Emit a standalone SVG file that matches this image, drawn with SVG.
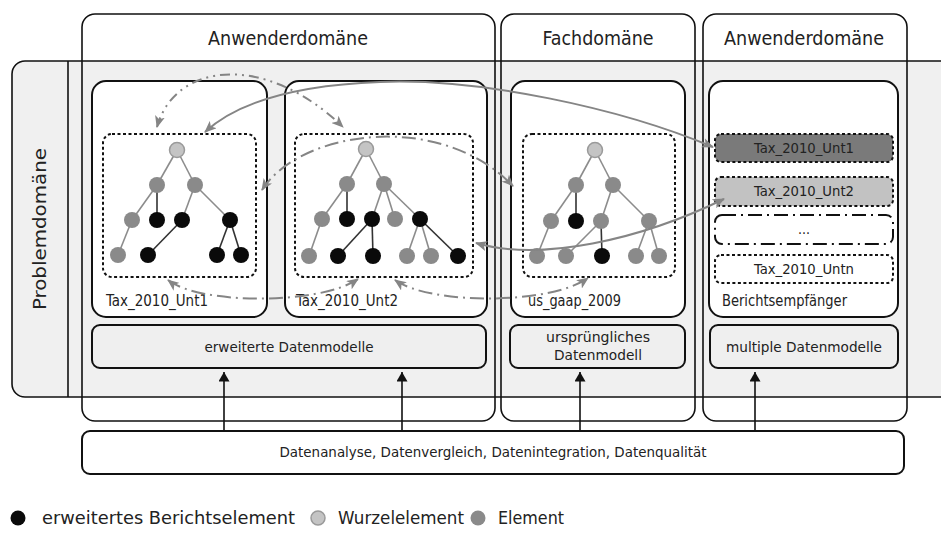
<svg xmlns="http://www.w3.org/2000/svg" width="941" height="536" viewBox="0 0 941 536">
  <style>
    text { font-family: "DejaVu Sans Condensed", "DejaVu Sans", sans-serif; fill: #222; }
    .title { font-size: 19px; text-anchor: middle; }
    .lbl { font-size: 15px; }
    .box-txt { font-size: 14px; text-anchor: middle; }
    .legend { font-size: 18px; }
    .frame { fill: none; stroke: #111; stroke-width: 1.6; }
    .panel { fill: #ffffff; stroke: #111; stroke-width: 2; }
    .graybox { fill: #efefef; stroke: #111; stroke-width: 2; }
    .whitebox { fill: #ffffff; stroke: #111; stroke-width: 2; }
    .tree-area { fill: none; stroke: #111; stroke-width: 2; stroke-dasharray: 3 2.5; }
    .dotted { stroke: #111; stroke-width: 2; stroke-dasharray: 3 2.5; }
    .dashdot-box { fill: #ffffff; stroke: #111; stroke-width: 2; stroke-dasharray: 14 5 2 5; }
    .e-g { stroke: #8c8c8c; stroke-width: 1.6; }
    .e-d { stroke: #333; stroke-width: 1.6; }
    .n-root { fill: #c4c4c4; stroke: #9a9a9a; stroke-width: 1.5; }
    .n-el { fill: #8a8a8a; }
    .n-ext { fill: #0a0a0a; }
    .link { fill: none; stroke: #858585; stroke-width: 2; marker-start: url(#gh); marker-end: url(#gh); }
    .dd { stroke-dasharray: 14 5 2 5; }
    .ddd { stroke-dasharray: 10 5 2 5 2 5; }
    .up { stroke: #111; stroke-width: 1.6; marker-end: url(#bh); }
  </style>
  <defs>
    <marker id="gh" viewBox="0 0 12 10" refX="11" refY="5" markerWidth="12" markerHeight="10" markerUnits="userSpaceOnUse" orient="auto-start-reverse">
      <path d="M0,0 L12,5 L0,10 L3,5 Z" fill="#858585"/>
    </marker>
    <marker id="bh" viewBox="0 0 12 14" refX="12" refY="7" markerWidth="12" markerHeight="11" markerUnits="userSpaceOnUse" orient="auto">
      <path d="M0,0 L12,7 L0,14 Z" fill="#111"/>
    </marker>
  </defs>

  <!-- problem domain band -->
  <g id="problemdomaene">
    <rect x="12" y="61" width="960" height="336" rx="13" fill="#f0f0f0" stroke="#111" stroke-width="1.6"/>
    <line x1="68" y1="61" x2="68" y2="397" stroke="#111" stroke-width="1.6"/>
    <text class="title" transform="translate(46,229) rotate(-90)" textLength="162" lengthAdjust="spacingAndGlyphs" style="font-size:18px">Problemdomäne</text>
  </g>

  <!-- domain columns -->
  <g id="anwenderdomaene-1">
    <rect class="frame" x="82" y="14" width="413" height="407" rx="13"/>
    <text class="title" x="288" y="45" textLength="160" lengthAdjust="spacingAndGlyphs">Anwenderdomäne</text>
  </g>
  <g id="fachdomaene">
    <rect class="frame" x="501" y="14" width="194" height="407" rx="13"/>
    <text class="title" x="598" y="45" textLength="111" lengthAdjust="spacingAndGlyphs">Fachdomäne</text>
  </g>
  <g id="anwenderdomaene-2">
    <rect class="frame" x="703" y="14" width="204" height="407" rx="13"/>
    <text class="title" x="804" y="45" textLength="160" lengthAdjust="spacingAndGlyphs">Anwenderdomäne</text>
  </g>

  <!-- model Tax_2010_Unt1 -->
  <g id="tax-unt1">
    <rect class="panel" x="92" y="81" width="175" height="236" rx="14"/>
    <rect class="tree-area" x="103" y="134" width="153" height="143" rx="9"/>
    <g>
      <line class="e-g" x1="177" y1="150" x2="157" y2="185"/>
      <line class="e-g" x1="177" y1="150" x2="195" y2="185"/>
      <line class="e-g" x1="157" y1="185" x2="132" y2="220"/>
      <line class="e-d" x1="157" y1="185" x2="157" y2="220"/>
      <line class="e-g" x1="195" y1="185" x2="182" y2="220"/>
      <line class="e-g" x1="195" y1="185" x2="230" y2="220"/>
      <line class="e-g" x1="132" y1="220" x2="118" y2="255"/>
      <line class="e-d" x1="182" y1="220" x2="148" y2="255"/>
      <line class="e-d" x1="230" y1="220" x2="217" y2="255"/>
      <line class="e-d" x1="230" y1="220" x2="241" y2="255"/>
    </g>
    <circle class="n-root" cx="177" cy="150" r="7.5"/>
    <circle class="n-el" cx="157" cy="185" r="8"/>
    <circle class="n-el" cx="195" cy="185" r="8"/>
    <circle class="n-el" cx="132" cy="220" r="8"/>
    <circle class="n-ext" cx="157" cy="220" r="8"/>
    <circle class="n-ext" cx="182" cy="220" r="8"/>
    <circle class="n-ext" cx="230" cy="220" r="8"/>
    <circle class="n-el" cx="118" cy="255" r="8"/>
    <circle class="n-ext" cx="148" cy="255" r="8"/>
    <circle class="n-ext" cx="217" cy="255" r="8"/>
    <circle class="n-ext" cx="241" cy="255" r="8"/>
    <text class="lbl" x="106" y="306" textLength="102" lengthAdjust="spacingAndGlyphs">Tax_2010_Unt1</text>
  </g>

  <!-- model Tax_2010_Unt2 -->
  <g id="tax-unt2">
    <rect class="panel" x="285" y="81" width="202" height="236" rx="14"/>
    <rect class="tree-area" x="295" y="134" width="178" height="143" rx="9"/>
    <g>
      <line class="e-g" x1="366" y1="149" x2="347" y2="184"/>
      <line class="e-g" x1="366" y1="149" x2="384" y2="184"/>
      <line class="e-g" x1="347" y1="184" x2="322" y2="219"/>
      <line class="e-d" x1="347" y1="184" x2="347" y2="219"/>
      <line class="e-g" x1="384" y1="184" x2="372" y2="219"/>
      <line class="e-g" x1="384" y1="184" x2="395" y2="219"/>
      <line class="e-g" x1="384" y1="184" x2="420" y2="219"/>
      <line class="e-g" x1="322" y1="219" x2="309" y2="256"/>
      <line class="e-d" x1="372" y1="219" x2="338" y2="256"/>
      <line class="e-d" x1="372" y1="219" x2="373" y2="256"/>
      <line class="e-g" x1="420" y1="219" x2="407" y2="256"/>
      <line class="e-g" x1="420" y1="219" x2="431" y2="256"/>
      <line class="e-d" x1="420" y1="219" x2="458" y2="256"/>
    </g>
    <circle class="n-root" cx="366" cy="149" r="7.5"/>
    <circle class="n-el" cx="347" cy="184" r="8"/>
    <circle class="n-el" cx="384" cy="184" r="8"/>
    <circle class="n-el" cx="322" cy="219" r="8"/>
    <circle class="n-ext" cx="347" cy="219" r="8"/>
    <circle class="n-ext" cx="372" cy="219" r="8"/>
    <circle class="n-el" cx="395" cy="219" r="8"/>
    <circle class="n-ext" cx="420" cy="219" r="8"/>
    <circle class="n-el" cx="309" cy="256" r="8"/>
    <circle class="n-ext" cx="338" cy="256" r="8"/>
    <circle class="n-ext" cx="373" cy="256" r="8"/>
    <circle class="n-el" cx="407" cy="256" r="8"/>
    <circle class="n-el" cx="431" cy="256" r="8"/>
    <circle class="n-ext" cx="458" cy="256" r="8"/>
    <text class="lbl" x="296" y="306" textLength="102" lengthAdjust="spacingAndGlyphs">Tax_2010_Unt2</text>
  </g>

  <!-- model us_gaap_2009 -->
  <g id="us-gaap-2009">
    <rect class="panel" x="511" y="81" width="174" height="236" rx="14"/>
    <rect class="tree-area" x="523" y="134" width="152" height="143" rx="9"/>
    <g>
      <line class="e-g" x1="595" y1="150" x2="576" y2="185"/>
      <line class="e-g" x1="595" y1="150" x2="613" y2="185"/>
      <line class="e-g" x1="576" y1="185" x2="551" y2="221"/>
      <line class="e-d" x1="576" y1="185" x2="576" y2="221"/>
      <line class="e-g" x1="613" y1="185" x2="601" y2="221"/>
      <line class="e-g" x1="613" y1="185" x2="649" y2="221"/>
      <line class="e-g" x1="551" y1="221" x2="537" y2="256"/>
      <line class="e-g" x1="601" y1="221" x2="566" y2="256"/>
      <line class="e-d" x1="601" y1="221" x2="602" y2="256"/>
      <line class="e-g" x1="649" y1="221" x2="636" y2="256"/>
      <line class="e-g" x1="649" y1="221" x2="659" y2="256"/>
    </g>
    <circle class="n-root" cx="595" cy="150" r="7.5"/>
    <circle class="n-el" cx="576" cy="185" r="8"/>
    <circle class="n-el" cx="613" cy="185" r="8"/>
    <circle class="n-el" cx="551" cy="221" r="8"/>
    <circle class="n-ext" cx="576" cy="221" r="8"/>
    <circle class="n-el" cx="601" cy="221" r="8"/>
    <circle class="n-el" cx="649" cy="221" r="8"/>
    <circle class="n-el" cx="537" cy="256" r="8"/>
    <circle class="n-el" cx="566" cy="256" r="8"/>
    <circle class="n-ext" cx="602" cy="256" r="8"/>
    <circle class="n-el" cx="636" cy="256" r="8"/>
    <circle class="n-el" cx="659" cy="256" r="8"/>
    <text class="lbl" x="528" y="306" textLength="93" lengthAdjust="spacingAndGlyphs">us_gaap_2009</text>
  </g>

  <!-- report recipients -->
  <g id="berichtsempfaenger">
    <rect class="panel" x="709" y="81" width="189" height="236" rx="14"/>
    <rect class="dotted" x="715" y="134" width="178" height="28" rx="6" fill="#7a7a7a"/>
    <text class="box-txt" x="804" y="153" textLength="100" lengthAdjust="spacingAndGlyphs">Tax_2010_Unt1</text>
    <rect class="dotted" x="715" y="177" width="178" height="29" rx="6" fill="#c2c2c2"/>
    <text class="box-txt" x="804" y="196" textLength="100" lengthAdjust="spacingAndGlyphs">Tax_2010_Unt2</text>
    <rect class="dashdot-box" x="715" y="215" width="178" height="29" rx="7"/>
    <text class="box-txt" x="804" y="234">...</text>
    <rect class="dotted" x="715" y="255" width="178" height="28" rx="6" fill="#ffffff"/>
    <text class="box-txt" x="804" y="274" textLength="100" lengthAdjust="spacingAndGlyphs">Tax_2010_Untn</text>
    <text class="lbl" x="722" y="306" textLength="125" lengthAdjust="spacingAndGlyphs">Berichtsempfänger</text>
  </g>

  <!-- data model summaries -->
  <g id="erweiterte-datenmodelle">
    <rect class="graybox" x="92" y="325" width="394" height="43" rx="8"/>
    <text class="box-txt" x="289" y="352" textLength="169" lengthAdjust="spacingAndGlyphs">erweiterte Datenmodelle</text>
  </g>
  <g id="urspruengliches-datenmodell">
    <rect class="graybox" x="510" y="325" width="175" height="43" rx="8"/>
    <text class="box-txt" x="598" y="342" textLength="104" lengthAdjust="spacingAndGlyphs">ursprüngliches</text>
    <text class="box-txt" x="598" y="360" textLength="88" lengthAdjust="spacingAndGlyphs">Datenmodell</text>
  </g>
  <g id="multiple-datenmodelle">
    <rect class="graybox" x="710" y="325" width="188" height="43" rx="8"/>
    <text class="box-txt" x="804" y="352" textLength="156" lengthAdjust="spacingAndGlyphs">multiple Datenmodelle</text>
  </g>

  <!-- analysis base -->
  <g id="datenanalyse">
    <rect class="whitebox" x="82" y="431" width="822" height="43" rx="8"/>
    <text class="box-txt" x="493" y="457" textLength="427" lengthAdjust="spacingAndGlyphs">Datenanalyse, Datenvergleich, Datenintegration, Datenqualität</text>
  </g>

  <!-- connectors -->
  <g id="connectors">
    <line class="up" x1="224" y1="431" x2="224" y2="372"/>
    <line class="up" x1="402" y1="431" x2="402" y2="372"/>
    <line class="up" x1="580" y1="431" x2="580" y2="372"/>
    <line class="up" x1="755" y1="431" x2="755" y2="372"/>

    <path class="link" d="M713,147 C 620,108 480,78 380,82 C 300,85 240,100 205,132"/>
    <path class="link" d="M476,243 C 540,262 640,240 724,199"/>
    <path class="link ddd" d="M157,127 C 175,62 265,52 343,127"/>
    <path class="link dd" d="M262,190 C 300,130 440,110 513,186"/>
    <path class="link dd" d="M168,280 C 200,305 320,305 358,279"/>
    <path class="link dd" d="M395,280 C 430,305 550,305 588,278"/>
  </g>

  <!-- legend -->
  <g id="legende">
    <circle class="n-ext" cx="18" cy="518" r="7.5"/>
    <text class="legend" x="42" y="524" textLength="253" lengthAdjust="spacingAndGlyphs">erweitertes Berichtselement</text>
    <circle class="n-root" cx="318" cy="518" r="7"/>
    <text class="legend" x="338" y="524" textLength="126" lengthAdjust="spacingAndGlyphs">Wurzelelement</text>
    <circle class="n-el" cx="478" cy="518" r="7.5"/>
    <text class="legend" x="498" y="524" textLength="66" lengthAdjust="spacingAndGlyphs">Element</text>
  </g>
</svg>
